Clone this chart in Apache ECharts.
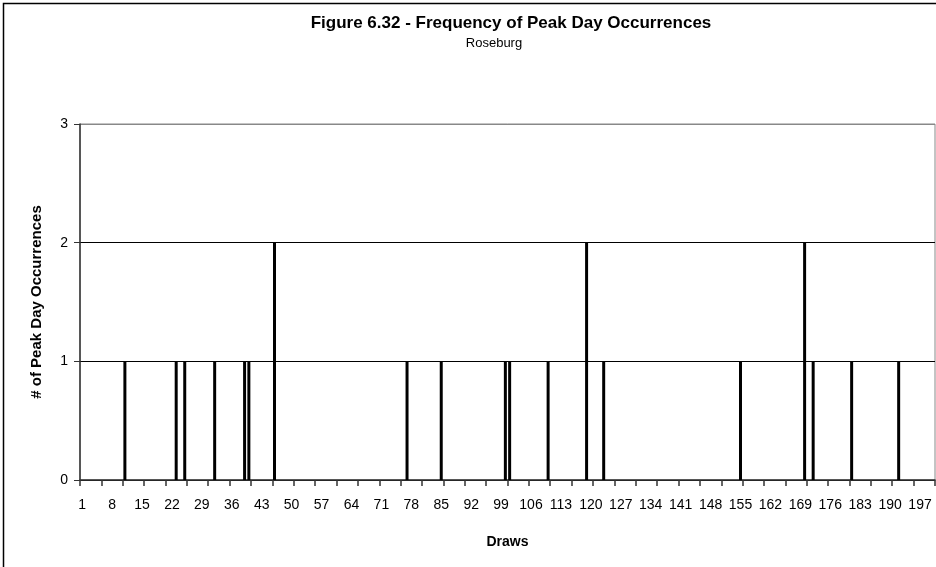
<!DOCTYPE html>
<html>
<head>
<meta charset="utf-8">
<script src="https://cdn.jsdelivr.net/npm/echarts@6/dist/echarts.min.js"></script>
<style>
  html, body { margin: 0; padding: 0; background: #fff; }
  #chart { width: 936px; height: 567px; }
</style>
</head>
<body>
<div id="chart"></div>
<script>
// draws 1..200 on the category axis
const draws = [];
for (let i = 1; i <= 200; i++) draws.push(String(i));

// draws that had a peak day, and how many
const peakDraws = [11, 23, 25, 32, 39, 40, 46, 77, 85, 100, 101, 110, 119, 123, 155, 170, 172, 181, 192];
const peakCounts = [1, 1, 1, 1, 1, 1, 2, 1, 1, 1, 1, 1, 2, 1, 1, 2, 1, 1, 1];

const yTicks = [0, 1, 2, 3];

// full series, empty where nothing happened (no zero-height bars)
const counts = draws.map(() => null);
peakDraws.forEach((d, i) => { counts[d - 1] = peakCounts[i]; });

const font = "'Liberation Sans', Arial, sans-serif";
const chart = echarts.init(document.getElementById('chart'));

chart.setOption({
  backgroundColor: '#fff',
  animation: false,
  title: [{
    text: 'Figure 6.32 - Frequency of Peak Day Occurrences',
    left: 506,
    textAlign: 'center',
    top: 10,
    textStyle: { fontFamily: font, fontSize: 17, fontWeight: 'bold', color: '#000' }
  }, {
    text: 'Roseburg',
    left: 489,
    textAlign: 'center',
    top: 32,
    textStyle: { fontFamily: font, fontSize: 13, fontWeight: 'normal', color: '#000' }
  }],
  graphic: [{
    type: 'rect',
    shape: { x: 3.5, y: 3.5, width: 1000, height: 700 },
    style: { fill: 'none', stroke: '#000', lineWidth: 1.5 },
    silent: true
  }],
  grid: {
    left: 80, right: 1, top: 124, bottom: 87,
    show: true, borderColor: '#888', borderWidth: 1
  },
  xAxis: {
    type: 'category',
    data: draws,
    name: 'Draws',
    nameLocation: 'middle',
    nameGap: 55,
    nameTextStyle: { fontFamily: font, fontSize: 14, fontWeight: 'bold', color: '#000' },
    axisLine: { show: true, lineStyle: { color: '#333', width: 1.5 } },
    axisTick: { show: true, interval: 4, length: 6, lineStyle: { color: '#333', width: 1.5 } },
    axisLabel: { interval: 6, fontFamily: font, fontSize: 14, color: '#000', margin: 18 },
    splitLine: { show: false }
  },
  yAxis: {
    type: 'value',
    min: yTicks[0],
    max: yTicks[yTicks.length - 1],
    interval: 1,
    name: '# of Peak Day Occurrences',
    nameLocation: 'middle',
    nameGap: 36,
    nameTextStyle: { fontFamily: font, fontSize: 15, fontWeight: 'bold', color: '#000' },
    axisLine: { show: true, lineStyle: { color: '#333', width: 1.5 } },
    axisTick: { show: true, length: 6, lineStyle: { color: '#333' } },
    axisLabel: { fontFamily: font, fontSize: 14, color: '#000', margin: 12 },
    splitLine: { show: true, lineStyle: { color: ['#000', '#000', '#000', '#888'], width: 1.2 } }
  },
  series: [{
    type: 'bar',
    data: counts,
    barWidth: 3,
    itemStyle: { color: '#000' }
  }]
});
</script>
</body>
</html>
